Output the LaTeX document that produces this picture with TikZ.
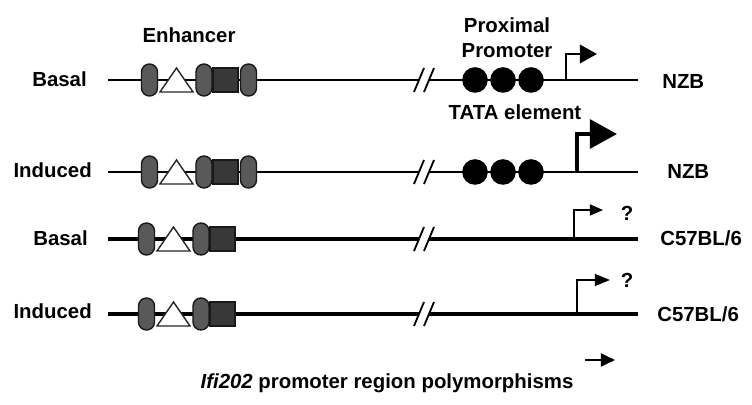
\documentclass[tikz,border=0pt]{standalone}
\usepackage{fontspec}
\setmainfont{Liberation Sans}
\usetikzlibrary{arrows.meta}
\tikzset{
  {lbl/.style} ={font=\bfseries\fontsize{14.5}{17.5}\selectfont, inner sep=0},
  {dna/.style} ={draw,line cap=butt},
  {brk/.style} ={draw,line width=1.3pt},
  {oval/.style} ={draw=black!90,fill=black!65,line width=1pt,
                  rounded corners=0.2cm, minimum width=0.4cm,
                  minimum height=0.8cm, inner sep=0},
  {box/.style} ={draw=black!90,fill=black!78,line width=1pt,
                 minimum width=0.62cm, minimum height=0.6cm, inner sep=0},
  {site/.style} ={draw=black!85,fill=white,line width=1pt},
  {tata/.style} ={circle,fill=black,minimum size=0.64cm,inner sep=0},
}
\begin{document}
\begin{tikzpicture}[x=0.025cm,y=-0.025cm]
\useasboundingbox (0,0) rectangle (752,405);
% the four promoter lines
\foreach \r/\y/\lw/\dx in {1/80/1.8pt/0, 2/172/1.8pt/0, 3/239/2.3pt/-3, 4/314/2.3pt/-3} {
  \coordinate (s\r) at (108,\y);
  \coordinate (k\r) at (419,\y);
  \coordinate (m\r) at (429,\y);
  \coordinate (e\r) at (638,\y);
  \draw[dna,line width=\lw] (s\r) -- (k\r) (m\r) -- (e\r);
  \draw[brk] (414,\y+12) -- (424,\y-12) (424,\y+12) -- (434,\y-12);
  \node[oval] (ova\r) at (149.5+\dx,\y) {};
  \draw[site] (160+\dx,\y+12) -- (193+\dx,\y+12) -- (176.5+\dx,\y-12) -- cycle;
  \node[oval] (ovb\r) at (204+\dx,\y) {};
  \node[box] (bx\r) at (225.5+\dx,\y) {};
}
\foreach \r/\y in {1/80, 2/172} {
  \node[oval] (ovc\r) at (248.5,\y) {};
  \foreach \c/\x in {1/475, 2/503, 3/531}
    \node[tata] (tt\r\c) at (\x,\y) {};
}
% transcription start sites
\coordinate (p1) at (566,80);  \coordinate (t1) at (597,54);
\coordinate (p2) at (577,172); \coordinate (t2) at (617,134);
\coordinate (p3) at (574,239); \coordinate (t3) at (603,210);
\coordinate (p4) at (577,314); \coordinate (t4) at (610,280);
\draw[line width=1.9pt,-{Triangle[length=0.43cm,width=0.46cm]}] (p1) |- (t1);
\draw[line width=3pt,-{Triangle[length=0.68cm,width=0.72cm]}] (p2) |- (t2);
\draw[line width=0.9pt,-{Triangle[length=0.33cm,width=0.28cm]}] (p3) |- (t3);
\draw[line width=1pt,-{Triangle[length=0.38cm,width=0.3cm]}] (p4) |- (t4);
\coordinate (da) at (585,360); \coordinate (db) at (615,360);
\draw[line width=1.7pt,-{Triangle[length=0.35cm,width=0.32cm]}] (da) -- (db);
% labels
\node[lbl,anchor=base east] (st1) at (87,87) {Basal};
\node[lbl,anchor=base east] (st2) at (92,178) {Induced};
\node[lbl,anchor=base east] (st3) at (88,246) {Basal};
\node[lbl,anchor=base east] (st4) at (92,319) {Induced};
\node[lbl,anchor=base west] (sn1) at (662,89) {NZB};
\node[lbl,anchor=base west] (sn2) at (667,179) {NZB};
\node[lbl,anchor=base west] (sn3) at (660,246) {C57BL/6};
\node[lbl,anchor=base west] (sn4) at (657,322) {C57BL/6};
\node[lbl] (enh) at (189,35) {Enhancer};
\node[lbl,align=center] (prox) at (507,38) {Proximal\\Promoter};
\node[lbl] (tatal) at (515,112) {TATA element};
\node[lbl] (q3) at (627,213) {?};
\node[lbl] (q4) at (627,280) {?};
\node[lbl] (cap) at (387,383) {\textit{Ifi202} promoter region polymorphisms};
\end{tikzpicture}
\end{document}
